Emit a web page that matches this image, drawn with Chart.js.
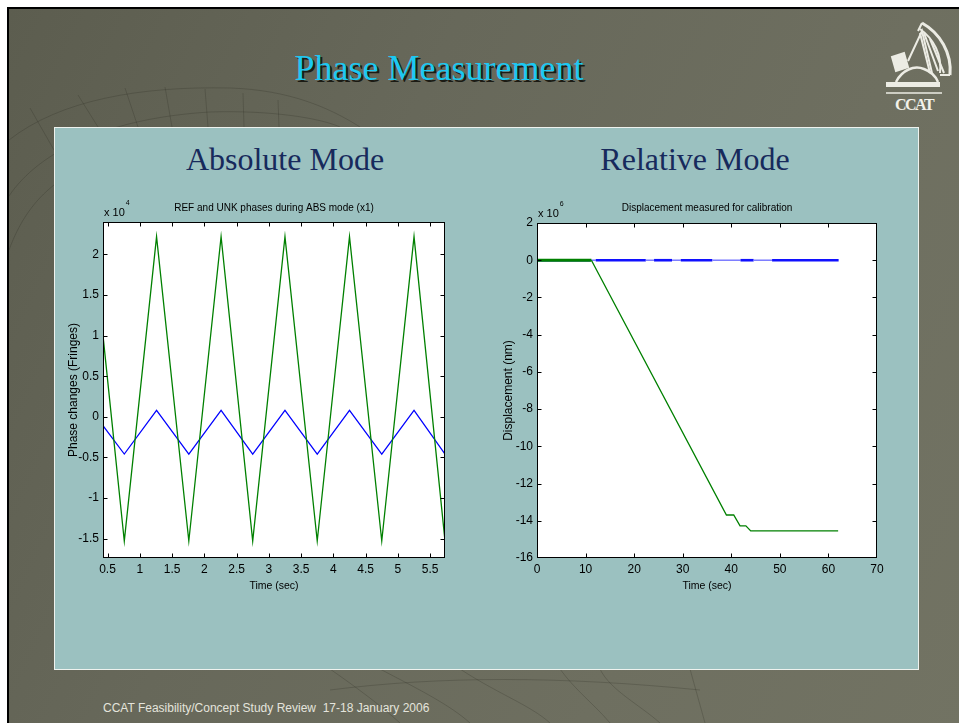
<!DOCTYPE html>
<html>
<head>
<meta charset="utf-8">
<script src="https://cdn.jsdelivr.net/npm/chart.js@4.4.1/dist/chart.umd.min.js"></script>
<style>
  html, body { margin: 0; padding: 0; background: #fff; width: 959px; height: 723px; overflow: hidden; }
  #frame {
    position: absolute; left: 7px; top: 7px; width: 960px; height: 720px;
    border-left: 2px solid #000; border-top: 2px solid #000;
    background: linear-gradient(115deg, #5c5d4f 0%, #67685a 35%, #6e6f60 70%, #727363 100%);
  }
  #lattice { position: absolute; left: 0; top: 0; }
  #title {
    position: absolute; left: 0; width: 878px; top: 47px; text-align: center;
    font-family: "Liberation Serif", "DejaVu Serif", serif; font-size: 36px;
    color: #1cc8f2; text-shadow: 2px 2px 0 #1b1b14;
  }
  #logo { position: absolute; left: 880px; top: 15px; }
  #panel {
    position: absolute; left: 54px; top: 127px; width: 863px; height: 541px;
    background: #9bc1c0; border: 1px solid #eef2ee;
  }
  .mode {
    position: absolute; top: 141px; width: 400px; text-align: center;
    font-family: "Liberation Serif", "DejaVu Serif", serif; font-size: 32px; color: #172a5c;
  }
  .chart-box { position: absolute; top: 196px; width: 400px; height: 404px; }
  #footer {
    position: absolute; left: 103px; top: 701px;
    font-family: "Liberation Sans", Arial, sans-serif; font-size: 12px; color: #e4e4dc;
  }
</style>
</head>
<body>
<div id="frame"></div>

<svg id="lattice" width="959" height="723" fill="none" stroke="rgba(35,36,28,0.22)" stroke-width="1">
  <path d="M9,140 C60,100 140,86 230,88 C290,90 330,108 360,127"/>
  <path d="M9,196 C40,150 110,118 210,112 C270,110 320,118 340,127"/>
  <path d="M30,108 L54,150"/>
  <path d="M78,95 L98,127"/>
  <path d="M125,88 L138,127"/>
  <path d="M165,87 L172,127"/>
  <path d="M205,89 L208,127"/>
  <path d="M243,93 L244,127"/>
  <path d="M278,100 L279,127"/>
  <path d="M9,250 C20,220 35,200 54,185"/>
  <path d="M330,669 C360,690 380,705 400,723"/>
  <path d="M380,669 C420,690 450,705 470,723"/>
  <path d="M460,669 C500,695 530,705 550,723"/>
  <path d="M560,669 C575,690 595,705 610,723"/>
  <path d="M600,669 C610,690 640,705 660,723"/>
  <path d="M330,690 C440,676 560,676 700,690"/>
  <path d="M690,669 L705,723"/>
</svg>

<div id="title">Phase Measurement</div>

<svg id="logo" width="75" height="100" fill="none" stroke="#ecece4" stroke-width="2">
  <path d="M42,8 C60,18 72,38 70,60" stroke-width="3"/>
  <path d="M40,14 C54,24 62,40 60,58"/>
  <path d="M42,8 L38,16 M70,60 L60,60"/>
  <path d="M44,18 L58,56 M50,24 L64,58 M40,18 L50,58"/>
  <path d="M28,46 L42,16 L52,58"/>
  <path d="M12,42 L24,38 L28,52 L16,56 Z" fill="#ecece4"/>
  <path d="M16,67 C22,55 34,50 44,54 C52,57 56,62 58,67" stroke-width="2.5"/>
  <path d="M6,67 L60,67 L60,72 L6,72 Z" fill="#ecece4" stroke="none"/>
  <path d="M6,78 L62,78" stroke-width="1.5"/>
  <text x="34" y="95" text-anchor="middle" fill="#f2f2ea" stroke="none"
        font-family="Liberation Serif, serif" font-weight="bold" font-size="16" letter-spacing="-1.5">CCAT</text>
</svg>

<div id="panel"></div>
<div class="mode" style="left:85px">Absolute Mode</div>
<div class="mode" style="left:495px">Relative Mode</div>

<div class="chart-box" style="left:55px"><canvas id="abs-chart" width="400" height="404"></canvas></div>
<div class="chart-box" style="left:490px"><canvas id="rel-chart" width="400" height="404"></canvas></div>

<div id="footer">CCAT Feasibility/Concept Study Review&nbsp; 17-18 January 2006</div>

<script>
// Absolute mode: REF and UNK phases, in units of 1e4 fringes (turning points of the sweep)
const absTime  = [0.43, 0.76, 1.26, 1.76, 2.26, 2.75, 3.25, 3.75, 4.25, 4.75, 5.25, 5.73];
const refPhase = [1.00, -1.53, 2.22, -1.53, 2.22, -1.53, 2.22, -1.53, 2.22, -1.53, 2.22, -1.53];
const unkPhase = [-0.11, -0.46, 0.08, -0.46, 0.08, -0.46, 0.08, -0.46, 0.08, -0.46, 0.08, -0.46];
const absXTicks = [0.5, 1, 1.5, 2, 2.5, 3, 3.5, 4, 4.5, 5, 5.5];
const absYTicks = [-1.5, -1, -0.5, 0, 0.5, 1, 1.5, 2];

// Relative mode: displacement for calibration, in units of 1e6 nm
const calTime = [0, 11.2, 39.0, 40.5, 41.8, 43.0, 44.0, 62.0];
const calDisp = [0, 0, -13.69, -13.69, -14.27, -14.27, -14.54, -14.54];
const refTime = [0, 11, 12.1, 22.4, 24.1, 27.8, 29.6, 36.1, 41.9, 44.6, 48.4, 62.1];
const refDisp = [0, 0, 0, 0, 0, 0, 0, 0, 0, 0, 0, 0];
const refNoisy = [1, 0, 1, 0, 1, 0, 1, 0, 1, 0, 1];   // per segment: jittery stretch or not
const relXTicks = [0, 10, 20, 30, 40, 50, 60, 70];
const relYTicks = [-16, -14, -12, -10, -8, -6, -4, -2, 0, 2];

const FONT = '"Liberation Sans", Arial, sans-serif';
const toPoints = (xs, ys) => xs.map((x, i) => ({x: x, y: ys[i]}));

// matlab look: white axes, full box, ticks pointing inwards, "x 10^n" multiplier
const matlabAxes = {
    id: 'matlabAxes',
    beforeDraw(chart) {
        const {ctx, chartArea: a} = chart;
        ctx.save();
        ctx.fillStyle = '#fff';
        ctx.fillRect(a.left, a.top, a.width, a.height);
        ctx.restore();
    },
    afterDatasetsDraw(chart, args, opts) {
        const {ctx, chartArea: a, scales: {x, y}} = chart;
        const L = Math.round(a.left) + 0.5, R = Math.round(a.right) - 0.5;
        const T = Math.round(a.top) + 0.5, B = Math.round(a.bottom) - 0.5;
        ctx.save();
        ctx.strokeStyle = '#000';
        ctx.lineWidth = 1;
        ctx.strokeRect(L, T, R - L, B - T);
        ctx.beginPath();
        x.ticks.forEach(t => {
            const px = Math.round(x.getPixelForValue(t.value)) + 0.5;
            if (px <= L + 1 || px >= R - 1) return;
            ctx.moveTo(px, B); ctx.lineTo(px, B - 4);
            ctx.moveTo(px, T); ctx.lineTo(px, T + 4);
        });
        y.ticks.forEach(t => {
            const py = Math.round(y.getPixelForValue(t.value)) + 0.5;
            if (py <= T + 1 || py >= B - 1) return;
            ctx.moveTo(L, py); ctx.lineTo(L + 4, py);
            ctx.moveTo(R, py); ctx.lineTo(R - 4, py);
        });
        ctx.stroke();

        ctx.fillStyle = '#000';
        ctx.font = '11px ' + FONT;
        ctx.fillText('x 10', a.left + 1, a.top - 6.5);
        const w = ctx.measureText('x 10').width;
        ctx.font = '7px ' + FONT;
        ctx.fillText(opts.exponent, a.left + 2 + w, a.top - 17);
        ctx.restore();
    }
};

function makeOptions(cfg) {
    return {
        responsive: false,
        animation: false,
        layout: {padding: {top: 0, left: 0, right: cfg.padRight, bottom: 0}},
        elements: {point: {radius: 0}, line: {tension: 0}},
        plugins: {
            legend: {display: false},
            tooltip: {enabled: false},
            title: {
                display: true,
                text: cfg.title,
                fullSize: false,
                color: '#000',
                font: {family: FONT, size: 10, weight: 'normal'},
                padding: {top: 6, bottom: cfg.titleGap}
            },
            matlabAxes: {exponent: cfg.exponent}
        },
        scales: {
            x: {
                type: 'linear',
                min: cfg.xMin, max: cfg.xMax,
                grid: {display: false, drawTicks: false},
                border: {display: false},
                afterBuildTicks: s => { s.ticks = cfg.xTicks.map(v => ({value: v})); },
                afterFit: s => { s.height = 42; },
                ticks: {
                    autoSkip: false, maxRotation: 0, padding: 4, color: '#000',
                    font: {family: FONT, size: 12},
                    callback: v => String(v)
                },
                title: {
                    display: true, text: 'Time (sec)', color: '#000',
                    font: {family: FONT, size: 10.5}, padding: {top: 0, bottom: 8}
                }
            },
            y: {
                type: 'linear',
                min: cfg.yMin, max: cfg.yMax,
                grid: {display: false, drawTicks: false},
                border: {display: false},
                afterBuildTicks: s => { s.ticks = cfg.yTicks.map(v => ({value: v})); },
                afterFit: s => { s.width = cfg.yWidth; },
                ticks: {
                    autoSkip: false, padding: 4, color: '#000',
                    font: {family: FONT, size: 12},
                    callback: v => String(v)
                },
                title: {
                    display: true, text: cfg.yTitle, color: '#000',
                    font: {family: FONT, size: 12}, padding: {top: 11, bottom: 0}
                }
            }
        }
    };
}

new Chart(document.getElementById('abs-chart'), {
    type: 'line',
    data: {
        datasets: [{
            label: 'REF',
            data: toPoints(absTime, refPhase),
            borderColor: '#008000',
            borderWidth: 1.3
        }, {
            label: 'UNK',
            data: toPoints(absTime, unkPhase),
            borderColor: '#0000ff',
            borderWidth: 1.2
        }]
    },
    options: makeOptions({
        title: 'REF and UNK phases during ABS mode (x1)',
        yTitle: 'Phase changes (Fringes)',
        exponent: '4',
        xMin: 0.43, xMax: 5.73, yMin: -1.74, yMax: 2.4,
        xTicks: absXTicks, yTicks: absYTicks,
        yWidth: 48, padRight: 10, titleGap: 8
    }),
    plugins: [matlabAxes]
});

new Chart(document.getElementById('rel-chart'), {
    type: 'line',
    data: {
        datasets: [{
            label: 'measured',
            data: toPoints(calTime, calDisp),
            borderColor: '#008000',
            borderWidth: 1.3,
            segment: {borderWidth: ctx => ctx.p0DataIndex === 0 ? 3 : 1.3}
        }, {
            label: 'reference',
            data: toPoints(refTime, refDisp),
            borderColor: '#7a7aff',
            borderWidth: 1.5,
            segment: {
                borderColor: ctx => refNoisy[ctx.p0DataIndex] ? '#1010ff' : '#7a7aff',
                borderWidth: ctx => refNoisy[ctx.p0DataIndex] ? 2.6 : 1.5
            }
        }]
    },
    options: makeOptions({
        title: 'Displacement measured for calibration',
        yTitle: 'Displacement (nm)',
        exponent: '6',
        xMin: 0, xMax: 70, yMin: -16, yMax: 2,
        xTicks: relXTicks, yTicks: relYTicks,
        yWidth: 47, padRight: 13, titleGap: 9
    }),
    plugins: [matlabAxes]
});
</script>
</body>
</html>
